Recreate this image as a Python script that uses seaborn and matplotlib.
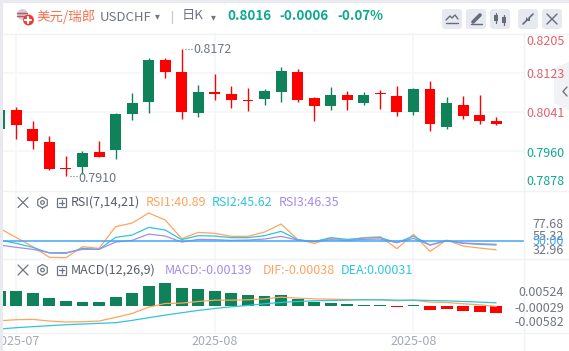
import matplotlib
matplotlib.use("Agg")
import numpy as np
import seaborn as sns
import matplotlib.pyplot as plt
from matplotlib.patches import FancyBboxPatch, Polygon, Rectangle
from matplotlib.transforms import Bbox

# =============================================================================
# Data
# =============================================================================

days = list(range(-1, 30))

opens = [.8006, .8046, .8006, .7979, .7925, .7927, .7958, .7963, .8037, .8062, .8149, .8124, .8039, .8083, .8079, .8066,
         .8068, .8083, .8124, .8070, .8054, .8077, .8060, .8081, .8075, .8041, .8089, .8010, .8056, .8035, .8023]
highs = [.8049, .8051, .8023, .7992, .7950, .7961, .7981, .8039, .8081, .8153, .8153, .8172, .8097, .8120, .8095, .8091,
         .8089, .8135, .8131, .8073, .8093, .8085, .8083, .8087, .8095, .8091, .8106, .8073, .8075, .8077, .8031]
lows = [.8003, .7986, .7965, .7921, .7910, .7913, .7948, .7944, .8025, .8039, .8112, .8027, .8031, .8066, .8050, .8044,
        .8056, .8062, .8062, .8023, .8046, .8046, .8056, .8048, .8033, .8035, .8002, .8006, .8027, .8017, .8014]
closes = [.8046, .8014, .7981, .7923, .7923, .7956, .7948, .8037, .8060, .8149, .8124, .8041, .8083, .8079, .8066, .8065,
          .8085, .8126, .8066, .8054, .8077, .8066, .8077, .8079, .8041, .8089, .8017, .8060, .8033, .8023, .8016]

rsi1 = [62.3, 53.0, 44.0, 33.3, 32.96, 44.0, 42.3, 64.0, 67.6, 77.68, 70.6, 52.0, 58.3, 57.3, 54.3, 54.3,
        58.6, 66.6, 51.3, 47.3, 52.6, 50.3, 53.0, 54.0, 42.0, 56.3, 39.3, 50.6, 44.6, 42.6, 40.89]
rsi2 = [50.6, 47.3, 43.3, 37.6, 37.3, 42.3, 41.3, 53.3, 55.6, 63.3, 60.6, 51.0, 55.0, 54.6, 53.0, 53.0,
        55.0, 59.3, 51.0, 49.0, 53.0, 51.3, 52.6, 53.0, 48.0, 54.6, 45.6, 50.0, 47.3, 46.3, 45.62]
rsi3 = [45.6, 43.3, 41.3, 38.0, 38.0, 41.3, 41.3, 48.6, 50.3, 56.6, 54.6, 48.6, 51.3, 51.0, 50.3, 50.6,
        51.6, 54.3, 50.6, 49.3, 51.0, 50.3, 51.3, 51.6, 48.0, 52.3, 45.6, 50.0, 47.6, 46.9, 46.35]

macd = [.00342, .00342, .00296, .00182, .00114, .00091, .00091, .00205, .00296, .00456, .00524, .00410, .00387, .00342,
        .00296, .00251, .00228, .00251, .00159, .00091, .00068, .00038, .00023, .00015, -.00038, .00015, -.00091,
        -.00068, -.00114, -.00137, -.00160]
dif = [-.00342, -.00319, -.00311, -.00349, -.00372, -.00365, -.00349, -.00266, -.00175, -.00030, .00053, .00061, .00099,
       .00129, .00129, .00137, .00159, .00197, .00175, .00159, .00152, .00144, .00144, .00137, .00114, .00129, .00084,
       .00076, .00046, .00023, -.00015]
dea = [-.00532, -.00501, -.00478, -.00456, -.00433, -.00418, -.00402, -.00387, -.00334, -.00273, -.00213, -.00159,
       -.00106, -.00061, -.00023, .00008, .00046, .00076, .00099, .00114, .00122, .00129, .00137, .00137, .00129, .00129,
       .00122, .00114, .00099, .00084, .00068]

price_grid = [0.8123, 0.8041, 0.7960]
date_ticks = [0, 12, 24]
date_labels = ["2025-07", "2025-08", "2025-08"]

# =============================================================================
# Style
# =============================================================================

sns.set_theme(style="white")
plt.rcParams["font.family"] = ["Noto Sans CJK SC", "DejaVu Sans"]

RED = "#ff0000"
GREEN = "#108259"
ORANGE = "#ffa45f"
CYAN = "#2ec5dd"
PURPLE = "#a68be8"
BLUE = "#41a5f5"
GRID = "#f5f6f8"
GRAY = "#6f7582"
TEAL = "#0ca98c"
W, H = 569, 351

fig = plt.figure(figsize=(W / 100, H / 100), dpi=100, facecolor="white")


def panel(left, top, right, bottom):
    a = fig.add_axes([left / W, 1 - bottom / H, (right - left) / W, (bottom - top) / H])
    a.set_facecolor("none")
    for s in a.spines.values():
        s.set_visible(False)
    a.tick_params(left=False, bottom=False, labelleft=False, labelbottom=False)
    a.set_axisbelow(True)
    return a


ax1 = panel(3, 33, 524, 191)
ax2 = panel(3, 191, 524, 259)
ax3 = panel(3, 259, 524, 332)

# =============================================================================
# Candles
# =============================================================================

for i, o, h, l, c in zip(days, opens, highs, lows, closes):
    col = GREEN if c >= o else RED
    ax1.vlines(i, l, h, color=col, lw=1.0)
    ax1.bar(i, max(abs(c - o), 0.00012), bottom=min(o, c), width=0.66, color=col, lw=0)

ax1.set_ylim(0.7878, 0.8205)
ax1.set_yticks(price_grid)
ax1.annotate("0.8172", (10, 0.8172), xytext=(12, -1), textcoords="offset pixels", va="center", color=GRAY, fontsize=9)
ax1.annotate("0.7910", (3, 0.7910), xytext=(12, -3), textcoords="offset pixels", va="center", color=GRAY, fontsize=9)
ax1.plot([10.2, 10.65], [0.8172, 0.8172], color=GRAY, lw=0.8, ls=":")
ax1.plot([3.25, 3.7], [0.7910, 0.7910], color=GRAY, lw=0.8, ls=":")

# =============================================================================
# RSI
# =============================================================================

sns.lineplot(x=days, y=rsi1, color=ORANGE, lw=0.9, ax=ax2, legend=False)
sns.lineplot(x=days, y=rsi2, color=CYAN, lw=0.9, ax=ax2, legend=False)
sns.lineplot(x=days, y=rsi3, color=PURPLE, lw=0.9, ax=ax2, legend=False)
ax2.axhline(50, color=BLUE, lw=1.1)
ax2.set_ylim(31.66, 99.66)

# =============================================================================
# MACD
# =============================================================================

bar_colors = [GREEN if v >= 0 else RED for v in macd]
sns.barplot(x=days, y=macd, hue=bar_colors, palette={GREEN: GREEN, RED: RED}, native_scale=True, dodge=False,
            width=0.72, saturation=1, linewidth=0, legend=False, ax=ax3)
sns.lineplot(x=days, y=dif, color=ORANGE, lw=0.9, ax=ax3, legend=False)
sns.lineplot(x=days, y=dea, color=CYAN, lw=0.9, ax=ax3, legend=False)
ax3.set_ylim(-.0060, .01071)
ax3.set_xlabel("")
ax3.set_ylabel("")

for a in (ax1, ax2, ax3):
    a.set_xlim(-0.804, 30.68)
    a.set_xticks(date_ticks)
    a.grid(True, axis="x", color=GRID, lw=1.2)
ax1.grid(True, axis="y", color=GRID, lw=1.2)

ax3.tick_params(labelbottom=True, length=0, pad=2.2, labelsize=9, labelcolor="#a3a8b4")
ax3.set_xticklabels(date_labels)
for t in ax3.get_xticklabels():
    t.set_clip_box(Bbox([[3, 0], [W, H]]))
    t.set_clip_on(True)

# =============================================================================
# Header, dividers, labels (drawn in pixel coordinates)
# =============================================================================

ov = fig.add_axes([0, 0, 1, 1], zorder=10)
ov.set_xlim(0, W)
ov.set_ylim(H, 0)
ov.axis("off")
ov.patch.set_alpha(0)

for y in (33.5, 190.5, 259, 332.5):
    ov.plot([3, W], [y, y], color="#f1f2f5", lw=1)
ov.plot([523.7, 523.7], [33, 351], color="#f1f2f5", lw=1)
ov.add_patch(Rectangle((0, 0), W, 2.5, color="#e8eaf0", lw=0))
ov.add_patch(Rectangle((0, 0), 2.8, H, color="#e8eaf0", lw=0))

# flag icon
ov.add_patch(plt.Circle((22.5, 14.5), 5.4, color="#c9cdda", lw=0))
ov.plot([17.5, 27.5], [12.5, 12.5], color="#c8504f", lw=1)
ov.plot([17.5, 27.5], [15.5, 15.5], color="#c8504f", lw=1)
ov.add_patch(plt.Circle((28.5, 20), 5.4, color="#f0352f", lw=0))
ov.plot([25.5, 31.5], [20, 20], color="white", lw=1.6)
ov.plot([28.5, 28.5], [17, 23], color="white", lw=1.6)

ov.text(36.5, 16.5, "美元/瑞郎", color="#f2744f", fontsize=9.7, va="center")
ov.text(99.5, 17.5, "USDCHF", color=GRAY, fontsize=9.5, va="center")
ov.text(155, 16.5, "▾", color=GRAY, fontsize=7, va="center", family="DejaVu Sans")
ov.plot([172.5, 172.5], [11, 23], color="#c9ccd4", lw=1)
ov.text(182, 16, "日K", color=GRAY, fontsize=9.5, va="center")
ov.text(211, 17, "▾", color=GRAY, fontsize=7, va="center", family="DejaVu Sans")
ov.text(227, 16, "0.8016", color=TEAL, fontsize=9.6, va="center", fontweight="bold")
ov.text(279, 16, "-0.0006", color=TEAL, fontsize=9.6, va="center", fontweight="bold")
ov.text(337, 16, "-0.07%", color=TEAL, fontsize=9.6, va="center", fontweight="bold")

# toolbar buttons
for bx in (442, 466, 490, 518, 542):
    ov.add_patch(FancyBboxPatch((bx + 2, 11), 16, 16, boxstyle="round,pad=2,rounding_size=3", fc="#e6e9f0", ec="none"))
ic = "#666c78"
ov.plot([446, 450, 452, 455, 458], [20, 16, 18, 15, 19], color=ic, lw=1)
ov.plot([446, 458], [23, 23], color=ic, lw=1)
ov.plot([473, 480], [22, 15], color=ic, lw=2.6)
ov.plot([471, 482], [24, 24], color=ic, lw=1)
for cx, t, b in ((496, 15, 21), (504, 17, 23)):
    ov.plot([cx, cx], [t - 2, b + 2], color=ic, lw=0.9)
    ov.add_patch(Rectangle((cx - 2, t), 4, b - t, color=ic, lw=0))
ov.plot([523, 527], [24, 20], color=ic, lw=1.2)
ov.plot([529, 533], [18, 14], color=ic, lw=1.2)
ov.add_patch(Polygon([[526, 17], [530, 21], [526, 21]], color=ic, lw=0))
ov.add_patch(Polygon([[530, 17], [530, 21], [526, 21]], color=ic, lw=0))
ov.plot([547, 557], [14, 24], color=ic, lw=1)
ov.plot([557, 547], [14, 24], color=ic, lw=1)

# right axis labels
price_labels = ["0.8205", "0.8123", "0.8041", "0.7960", "0.7878"]
price_ys = [41.5, 74.5, 113.5, 153.5, 181.5]
price_cols = ["#e2606c", "#e2606c", "#e2606c", TEAL, TEAL]
for s, y, c in zip(price_labels, price_ys, price_cols):
    ov.text(565, y, s, ha="right", va="center", color=c, fontsize=9)
for s, y, c in zip(["77.68", "55.32", "32.96", "50.00"], [224.7, 236.5, 250.5, 241.5], [GRAY, GRAY, GRAY, BLUE]):
    ov.text(564, y, s, ha="right", va="center", color=c, fontsize=9)
for s, y in zip(["0.00524", "-0.00029", "-0.00582"], [292.5, 308, 323]):
    ov.text(564, y, s, ha="right", va="center", color=GRAY, fontsize=9)

# collapse tab
ov.add_patch(Polygon([[554, 68], [569, 62], [569, 110], [554, 103]], fc="#eeeff3", ec="none", alpha=0.8))
ov.plot([567, 563, 567], [87, 91.5, 96], color=GRAY, lw=1)

# indicator legends
def tools(y):
    ov.plot([18, 28], [y - 5, y + 5], color=GRAY, lw=0.9)
    ov.plot([28, 18], [y - 5, y + 5], color=GRAY, lw=0.9)
    ang = np.linspace(np.pi / 2, 2.5 * np.pi, 7)
    ov.plot(42.5 + 5.5 * np.cos(ang), y + 5.5 * np.sin(ang), color=GRAY, lw=0.9)
    ov.add_patch(plt.Circle((42.5, y), 1.8, fc="none", ec=GRAY, lw=0.9))
    ov.add_patch(Rectangle((57.5, y - 4.5), 9, 9, fc="none", ec=GRAY, lw=0.9))
    ov.plot([59.5, 64.5], [y, y], color=GRAY, lw=0.9)
    ov.plot([62, 62], [y - 2.5, y + 2.5], color=GRAY, lw=0.9)


tools(202.5)
tools(270)
for x, s, c in ((71, "RSI(7,14,21)", "#565c68"), (146, "RSI1:40.89", ORANGE), (212, "RSI2:45.62", CYAN), (279, "RSI3:46.35", PURPLE)):
    ov.text(x, 202.5, s, color=c, fontsize=9, va="center")
for x, s, c in ((71, "MACD(12,26,9)", "#565c68"), (165, "MACD:-0.00139", PURPLE), (263, "DIF:-0.00038", ORANGE), (341, "DEA:0.00031", CYAN)):
    ov.text(x, 270, s, color=c, fontsize=9, va="center")

plt.savefig("out.png", dpi=100)
